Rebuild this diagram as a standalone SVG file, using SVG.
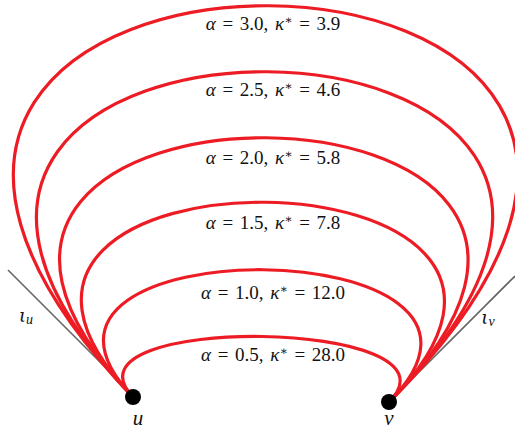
<svg xmlns="http://www.w3.org/2000/svg" width="515" height="432" viewBox="0 0 515 432">
<style>
.c{fill:none;stroke:#ED1C24;stroke-width:3.2}
.t{stroke:#666;stroke-width:1.6;fill:none}
.lbl{font-family:"Liberation Serif","DejaVu Serif",serif;font-size:19px;fill:#111;text-anchor:middle;word-spacing:2px}
.m{font-style:italic}
.s{font-size:12px}
.n{font-family:"Liberation Serif","DejaVu Serif",serif;font-size:21px;fill:#111;text-anchor:middle;font-style:italic}
.i{font-family:"DejaVu Serif",serif;font-size:18px}
</style>
<rect width="515" height="432" fill="#fff"/>
<g id="tangents">
<line class="t" x1="8" y1="270" x2="133" y2="395"/>
<line class="t" x1="515" y1="276" x2="389" y2="402"/>
</g>
<g id="connectors">
<path class="c" d="M133,397 C-371,-128 914,-123 389,402"/>
<path class="c" d="M133,397 C-287,-40 826,-35 389,402"/>
<path class="c" d="M133,397 C-202,48 738,53 389,402"/>
<path class="c" d="M133,397 C-120,134 652,139 389,402"/>
<path class="c" d="M133,397 C-33,224 562,229 389,402"/>
<path class="c" d="M133,397 C52,313 473,318 389,402"/>
</g>
<g id="labels">
<text class="lbl" x="273" y="30"><tspan class="m">α</tspan> = 3.0, <tspan class="m">κ</tspan><tspan class="s" dy="-6">∗</tspan><tspan dy="6"> = 3.9</tspan></text>
<text class="lbl" x="273" y="96"><tspan class="m">α</tspan> = 2.5, <tspan class="m">κ</tspan><tspan class="s" dy="-6">∗</tspan><tspan dy="6"> = 4.6</tspan></text>
<text class="lbl" x="273" y="164"><tspan class="m">α</tspan> = 2.0, <tspan class="m">κ</tspan><tspan class="s" dy="-6">∗</tspan><tspan dy="6"> = 5.8</tspan></text>
<text class="lbl" x="273" y="229"><tspan class="m">α</tspan> = 1.5, <tspan class="m">κ</tspan><tspan class="s" dy="-6">∗</tspan><tspan dy="6"> = 7.8</tspan></text>
<text class="lbl" x="273" y="299"><tspan class="m">α</tspan> = 1.0, <tspan class="m">κ</tspan><tspan class="s" dy="-6">∗</tspan><tspan dy="6"> = 12.0</tspan></text>
<text class="lbl" x="273" y="361"><tspan class="m">α</tspan> = 0.5, <tspan class="m">κ</tspan><tspan class="s" dy="-6">∗</tspan><tspan dy="6"> = 28.0</tspan></text>
</g>
<g id="node-u">
<circle cx="133" cy="397" r="8" fill="#000"/>
<text class="n" x="138" y="425">u</text>
</g>
<g id="node-v">
<circle cx="389" cy="402" r="8" fill="#000"/>
<text class="n" x="389" y="425">v</text>
</g>
<g id="tangent-labels">
<text class="n" x="26" y="322"><tspan class="i">ι</tspan><tspan font-size="14" dy="2">u</tspan></text>
<text class="n" x="488" y="324"><tspan class="i">ι</tspan><tspan font-size="14" dy="2">v</tspan></text>
</g>
</svg>
